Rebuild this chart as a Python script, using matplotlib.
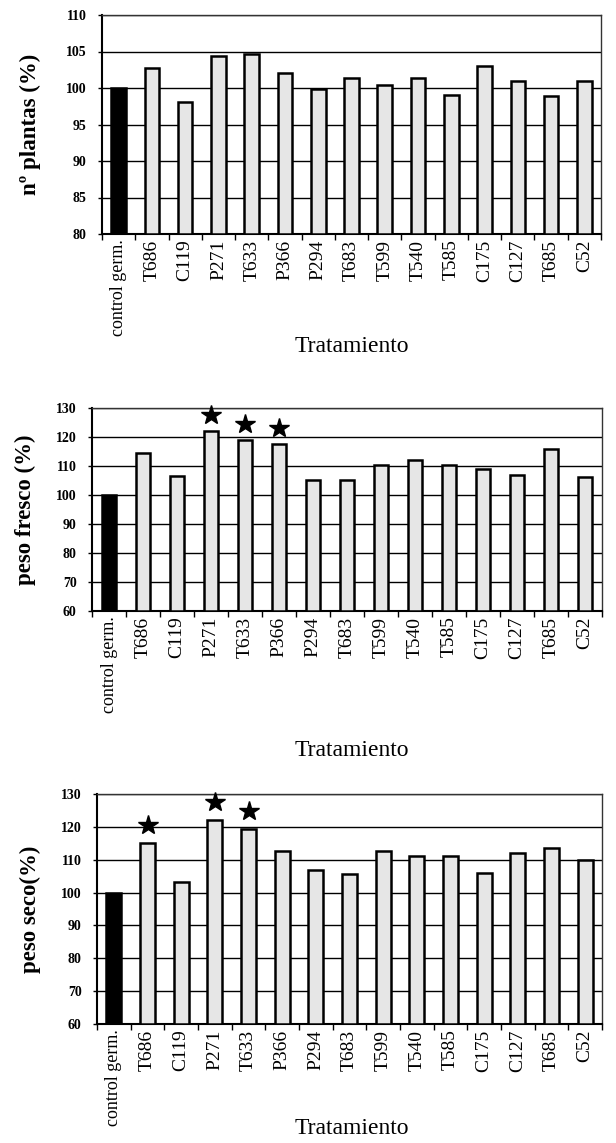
import numpy as np
import matplotlib
matplotlib.use("Agg")
import matplotlib.pyplot as plt

plt.rcParams['font.family'] = ['Liberation Serif', 'DejaVu Serif']

tratamientos = ["control germ.", "T686", "C119", "P271", "T633", "P366", "P294",
                "T683", "T599", "T540", "T585", "C175", "C127", "T685", "C52"]

n_plantas = [100.0, 102.8, 98.1, 104.4, 104.7, 102.0, 99.9, 101.4, 100.4,
             101.4, 99.0, 103.0, 101.0, 98.9, 100.9]
peso_fresco = [100.0, 114.5, 106.5, 122.2, 119.1, 117.7, 105.1, 105.1, 110.3,
               112.2, 110.3, 108.8, 106.8, 116.0, 106.2]
peso_seco = [100.0, 115.2, 103.2, 122.2, 119.5, 112.8, 107.0, 105.8, 112.8,
             111.2, 111.2, 105.9, 112.1, 113.7, 109.8]

# significant treatments (star)
sig_fresco = ["P271", "T633", "P366"]
sig_seco = ["T686", "P271", "T633"]

W, H = 616, 1143
fig = plt.figure(figsize=(W / 100, H / 100), dpi=100)


def px_axes(l, r, t, b):
    return fig.add_axes([l / W, 1 - b / H, (r - l) / W, (b - t) / H])


def panel(ax, vals, ylim, step, ylabel, ylab_x, xlab_y, sig=()):
    x = np.arange(len(tratamientos))
    colors = ['black'] + ['#e6e6e6'] * (len(vals) - 1)
    ax.bar(x, np.array(vals) - ylim[0], bottom=ylim[0], width=0.44,
           color=colors, edgecolor='black', linewidth=1.8, zorder=3)
    ax.set_xlim(-0.5, len(vals) - 0.5)
    ax.set_ylim(*ylim)
    yt = np.arange(ylim[0], ylim[1] + 0.1, step)
    ax.set_yticks(yt)
    ax.set_yticklabels([str(int(v)) for v in yt], fontsize=10, fontweight='bold')
    for v in yt[1:]:
        ax.axhline(v, color='black', linewidth=1.0, zorder=1)
    ax.set_xticks(x)
    ax.set_xticklabels(tratamientos, rotation=90, fontsize=14)
    ax.get_xticklabels()[0].set_fontsize(13)
    ax.tick_params(axis='x', length=0, pad=4)
    ax.set_xticks(np.arange(len(vals) + 1) - 0.5, minor=True)
    ax.tick_params(axis='x', which='minor', length=4, width=1, direction='out')
    ax.tick_params(axis='y', length=3, width=1, direction='out', pad=8)
    for s in ['left', 'bottom']:
        ax.spines[s].set_linewidth(1.5)
    for s in ['top', 'right']:
        ax.spines[s].set_linewidth(1.0)
        ax.spines[s].set_color('#333333')
    rng = ylim[1] - ylim[0]
    for name in sig:
        i = tratamientos.index(name)
        ax.plot(i, vals[i] + rng * 0.075, marker='*', color='black',
                markersize=15, zorder=4, clip_on=False)
    pos = ax.get_position()
    fig.text(ylab_x / W, pos.y0 + pos.height / 2, ylabel, rotation=90,
             ha='center', va='center', fontsize=16.5, fontweight='bold')
    fig.text(352 / W, 1 - xlab_y / H, "Tratamiento", ha='center', va='center',
             fontsize=17)


ax1 = px_axes(102, 601, 15, 234)
panel(ax1, n_plantas, (80, 110), 5, "nº plantas (%)", 30, 347)

ax2 = px_axes(92, 602, 408, 611)
panel(ax2, peso_fresco, (60, 130), 10, "peso fresco (%)", 25, 750, sig_fresco)

ax3 = px_axes(97, 602, 794, 1024)
panel(ax3, peso_seco, (60, 130), 10, "peso seco(%)", 30, 1128, sig_seco)

fig.savefig("out.png", dpi=100)
